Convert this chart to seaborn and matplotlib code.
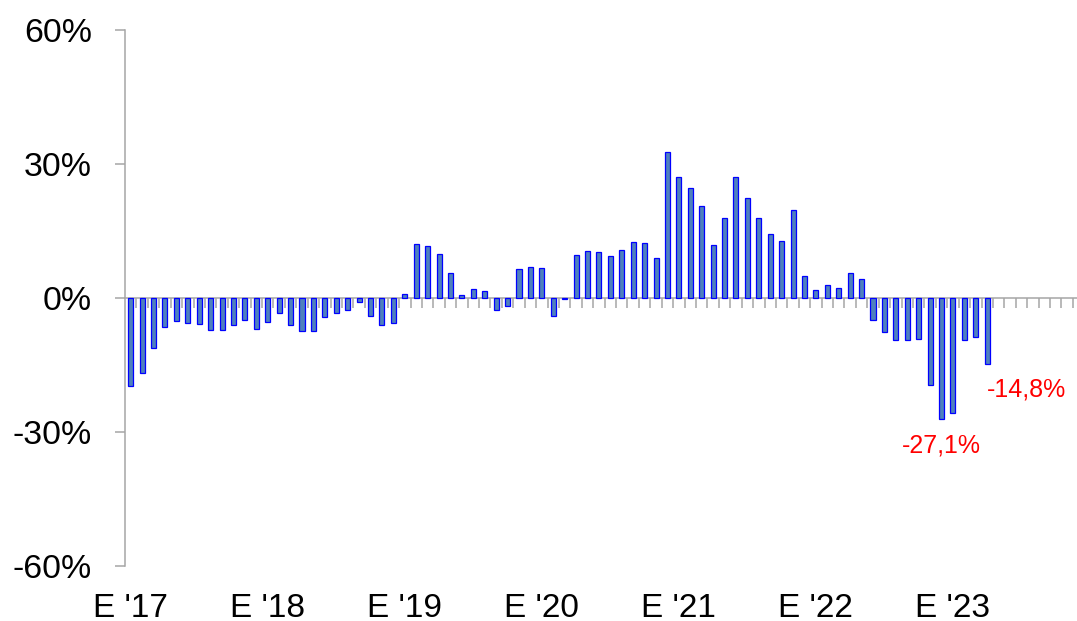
import numpy as np
import pandas as pd
import matplotlib
matplotlib.use("Agg")
import matplotlib.pyplot as plt
import seaborn as sns

# ---- data (monthly y/y change, %) ----
n_slots = 84  # Jan 2017 .. Dec 2023
values_2017 = [-19.7, -16.9, -11.3, -6.5, -5.1, -5.6, -5.9, -7.2, -7.1, -6.1, -4.9, -7.0]
values_2018 = [-5.3, -3.3, -6.1, -7.4, -7.3, -4.3, -3.4, -2.7, -1.0, -4.1, -6.1, -5.5]
values_2019 = [1.0, 12.0, 11.6, 9.9, 5.5, 0.7, 2.1, 1.5, -2.7, -1.8, 6.4, 7.0]
values_2020 = [6.7, -4.0, -0.3, 9.6, 10.5, 10.4, 9.4, 10.8, 12.5, 12.4, 9.0, 32.6]
values_2021 = [27.1, 24.7, 20.7, 11.9, 17.9, 27.0, 22.4, 17.9, 14.3, 12.8, 19.8, 5.0]
values_2022 = [1.9, 2.9, 2.2, 5.6, 4.2, -5.0, -7.5, -9.3, -9.3, -9.1, -19.4, -27.1]
values_2023 = [-25.7, -9.3, -8.7, -14.8]
year_labels = ["E '17", "E '18", "E '19", "E '20", "E '21", "E '22", "E '23"]
y_ticks = [-60, -30, 0, 30, 60]
y_tick_labels = ["-60%", "-30%", "0%", "30%", "60%"]
annot_texts = ["-27,1%", "-14,8%"]
annot_index = [71, 75]

values = (values_2017 + values_2018 + values_2019 + values_2020
          + values_2021 + values_2022 + values_2023)
df = pd.DataFrame({"pos": np.arange(len(values)), "val": values})

sns.set_style("white")
plt.rcParams["font.family"] = ["Liberation Sans", "DejaVu Sans"]
plt.rcParams["axes.unicode_minus"] = False

W, H = 1077, 621
fig = plt.figure(figsize=(W / 100, H / 100), dpi=100)
slot = 11.42
left_px, right_px = 125.0, 125.0 + n_slots * slot
top_px, bot_px = 30, 566
ax = fig.add_axes([left_px / W, (H - bot_px) / H, (right_px - left_px) / W, (bot_px - top_px) / H])

sns.barplot(data=df, x="pos", y="val", native_scale=True, width=0.44,
            color="#4F81BD", saturation=1, edgecolor="#0000FF", linewidth=0.9,
            ax=ax, zorder=3)

grey = "#A6A6A6"
ax.set_xlim(-0.5, n_slots - 0.5)
ax.set_ylim(-60, 60)
ax.set_yticks(y_ticks)
ax.set_yticklabels(y_tick_labels)
ax.set_xlabel("")
ax.set_ylabel("")

for s in ["top", "right"]:
    ax.spines[s].set_visible(False)
ax.spines["left"].set_color(grey)
ax.spines["left"].set_linewidth(1.1)
ax.spines["bottom"].set_position(("data", 0))
ax.spines["bottom"].set_color(grey)
ax.spines["bottom"].set_linewidth(1.1)
ax.spines["bottom"].set_zorder(2)

ax.tick_params(axis="y", which="major", left=True, direction="out", length=7.5,
               width=1.1, color=grey, pad=16.3, labelsize=24.4, labelcolor="black")
ax.set_xticks([])
ax.set_xticks(np.arange(0.5, n_slots, 1.0), minor=True)
ax.tick_params(axis="x", which="minor", bottom=True, direction="out", length=7.5,
               width=1.1, color=grey, labelbottom=False)

sec = ax.secondary_xaxis("bottom")
sec.set_xticks(np.arange(0, len(year_labels) * 12, 12))
sec.set_xticklabels(year_labels)
sec.tick_params(length=0, pad=19.5, labelsize=24, labelcolor="black")
sec.spines["bottom"].set_visible(False)

for txt, idx in zip(annot_texts, annot_index):
    v = values[idx]
    if txt == "-27,1%":
        ax.annotate(txt, xy=(idx, v), xytext=(0, -10.5), textcoords="offset points",
                    ha="center", va="top", color="#FF0000", fontsize=18)
    else:
        ax.annotate(txt, xy=(idx, v), xytext=(0, -10), textcoords="offset points",
                    ha="left", va="top", color="#FF0000", fontsize=18)

fig.savefig("out.png", dpi=100)
